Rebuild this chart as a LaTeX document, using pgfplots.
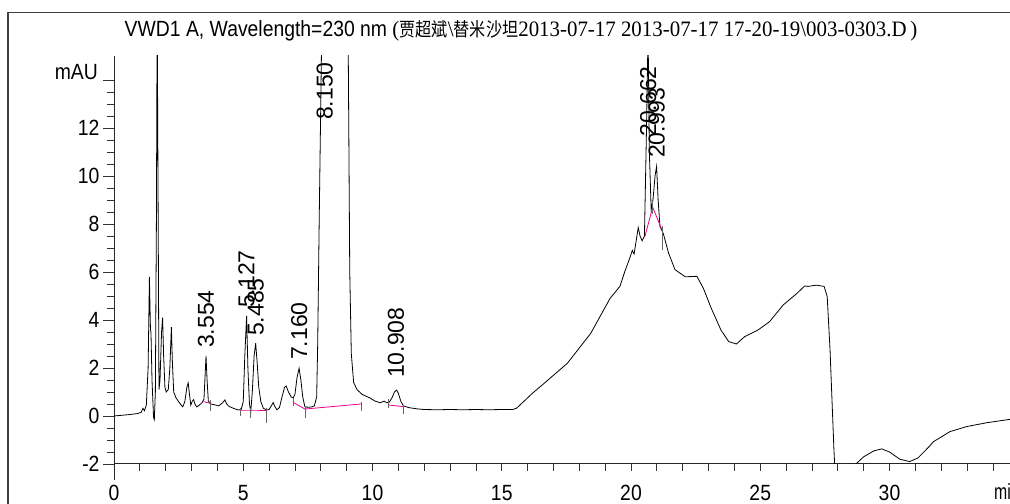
\documentclass[border=0pt]{standalone}
\usepackage{fontspec}
\setmainfont{Liberation Sans}
\newfontfamily\narrowfont{Liberation Sans}[FakeStretch=0.88]
\newfontfamily\narrowerfont{Liberation Sans}[FakeStretch=0.72]
\newfontfamily\cjk{Noto Sans CJK SC}[FakeStretch=0.85]
\newfontfamily\cserif{Liberation Serif}[FakeStretch=0.95]
\usepackage{pgfplots}
\pgfplotsset{compat=1.18}
\newcommand\tickfont{\narrowfont\fontsize{22bp}{22bp}\selectfont}
\newcommand\peakfont{\fontsize{23bp}{23bp}\selectfont}
\begin{document}
\begin{tikzpicture}
\path[use as bounding box] (0,0) rectangle (1010bp,504bp);
\draw[black!75, line width=1.2bp] (8bp,-2bp) -- (8bp,491.3bp) -- (1014bp,491.3bp);
\node[anchor=base, inner sep=0] at (521bp,467bp) {\narrowfont\fontsize{22bp}{24bp}\selectfont VWD1 A, Wavelength=230 nm {\cserif(}{\cjk\fontsize{19bp}{22bp}\selectfont 贾超斌}{\cserif\textbackslash}{\cjk\fontsize{19bp}{22bp}\selectfont 替米沙坦}{\cserif 2013-07-17 2013-07-17 17-20-19\textbackslash 003-0303.D\,)}};
\begin{axis}[
  at={(114bp,40bp)}, anchor=south west, scale only axis,
  width=904.75bp, height=408bp,
  xmin=0, xmax=35, ymin=-2, ymax=15,
  axis x line*=bottom, axis y line*=left,
  x axis line style={-}, y axis line style={-},
  axis line style={black!85, line width=1bp},
  xtick={0,5,...,30}, minor xtick={0,1,...,35},
  major x tick style={draw=none},
  ytick={-2,0,...,14}, yticklabels={-2,0,2,4,6,8,10,12,{}},
  minor y tick num=3,
  tick align=outside, major tick length=11bp, minor tick length=6.5bp,
  tick style={black!80, line width=0.8bp},
  ticklabel style={font=\tickfont},
  /pgf/number format/assume math mode=true,
  xticklabel style={anchor=base, yshift=-25bp},
  yticklabel style={anchor=east},
]
\addplot[black, line width=0.8bp] coordinates {
(0.00,0.00) (0.30,0.03) (0.60,0.06) (0.90,0.10) (1.05,0.15) (1.12,0.32) (1.18,0.22) (1.25,0.45)
(1.32,2.0) (1.37,5.8) (1.41,3.6) (1.43,3.5) (1.47,1.5) (1.53,-0.05) (1.56,-0.15) (1.60,1.0)
(1.64,8) (1.67,17) (1.71,8) (1.74,1.1) (1.78,1.5) (1.84,3.5) (1.88,4.1) (1.92,2.5) (1.97,1.2)
(2.02,1.0) (2.10,1.1) (2.16,2.0) (2.22,3.7) (2.26,2.2) (2.31,1.0) (2.40,0.75) (2.50,0.6)
(2.60,0.45) (2.66,0.38) (2.74,0.6) (2.82,1.2) (2.87,1.38) (2.92,0.9) (2.97,0.45) (3.03,0.62)
(3.08,0.68) (3.13,0.5) (3.20,0.38) (3.30,0.45) (3.40,0.55) (3.48,0.7) (3.52,1.6) (3.56,2.5)
(3.60,1.5) (3.65,0.62) (3.75,0.5) (3.91,0.46) (4.05,0.42) (4.20,0.55) (4.29,0.67) (4.36,0.5)
(4.45,0.4) (4.62,0.32) (4.81,0.25) (4.92,0.27) (5.00,0.6) (5.06,2.5) (5.13,4.17) (5.18,2.0)
(5.24,0.5) (5.29,0.18) (5.35,1.0) (5.42,2.5) (5.48,3.03) (5.54,2.2) (5.60,1.2) (5.68,0.6)
(5.78,0.32) (5.90,0.25) (6.00,0.27) (6.10,0.45) (6.16,0.56) (6.22,0.40) (6.30,0.26) (6.40,0.35)
(6.50,0.8) (6.60,1.2) (6.66,1.25) (6.75,1.0) (6.85,0.8) (6.93,0.75) (7.00,0.9) (7.08,1.6)
(7.16,1.99) (7.23,1.5) (7.30,0.8) (7.38,0.4) (7.50,0.36) (7.65,0.38) (7.75,0.42) (7.84,0.8)
(7.88,3.0) (7.94,8.3) (8.03,15.5) (8.15,40) (9.0,40) (9.06,15.5) (9.12,6) (9.18,2.6) (9.27,1.4)
(9.40,1.1) (9.60,0.9) (9.90,0.75) (10.10,0.62) (10.30,0.55) (10.45,0.62) (10.55,0.55)
(10.65,0.58) (10.75,0.75) (10.85,1.0) (10.93,1.08) (11.00,0.95) (11.10,0.6) (11.20,0.42)
(11.40,0.35) (11.70,0.30) (12.00,0.27) (12.50,0.26) (13.00,0.27) (13.50,0.26) (14.00,0.27)
(14.50,0.26) (15.00,0.27) (15.43,0.27) (15.58,0.33) (16.18,0.94) (16.79,1.5) (17.54,2.2)
(18.44,3.44) (19.19,4.9) (19.57,5.4) (19.77,6.05) (19.96,6.6) (20.05,6.9) (20.12,6.75)
(20.28,7.85) (20.35,7.5) (20.43,7.3) (20.52,7.5) (20.60,12) (20.66,16) (20.71,11) (20.78,8.6)
(20.85,9.0) (20.93,10.0) (20.99,10.4) (21.05,9.0) (21.12,7.9) (21.25,7.6) (21.45,6.8)
(21.70,6.1) (22.10,5.8) (22.55,5.82) (22.80,5.32) (23.10,4.5) (23.48,3.58) (23.78,3.1)
(24.08,3.0) (24.39,3.3) (24.91,3.58) (25.36,3.93) (25.89,4.63) (26.42,5.11) (26.72,5.42)
(26.85,5.4) (27.17,5.45) (27.47,5.4) (27.59,4.98) (27.70,2.75) (27.85,-1.4) (27.90,-2.5)
(28.30,-2.8) (28.66,-2.04) (29.00,-1.7) (29.40,-1.45) (29.70,-1.37) (30.00,-1.5) (30.40,-1.8)
(30.78,-1.9) (31.10,-1.75) (31.53,-1.28) (31.70,-1.07) (32.34,-0.65) (32.99,-0.44)
(33.76,-0.28) (34.66,-0.14) (35.00,-0.12)
};
\addplot[magenta, line width=0.8bp] coordinates {(3.46,0.6) (3.71,0.53)};
\addplot[magenta, line width=0.8bp] coordinates {(4.87,0.25) (5.28,0.25) (5.90,0.25)};
\addplot[magenta, line width=0.8bp] coordinates {(6.94,0.56) (7.39,0.29) (9.55,0.5)};
\addplot[magenta, line width=0.8bp] coordinates {(10.61,0.46) (11.19,0.39)};
\addplot[magenta, line width=0.8bp] coordinates {(20.53,7.45) (20.84,8.7) (21.18,7.8)};
\addplot[black!60, line width=0.6bp, unbounded coords=jump] coordinates {
(3.71,0.65) (3.71,0.2) (nan,nan)
(4.87,0.35) (4.87,0.0) (nan,nan)
(5.28,0.35) (5.28,-0.1) (nan,nan)
(5.90,0.35) (5.90,-0.3) (nan,nan)
(6.94,0.75) (6.94,0.4) (nan,nan)
(7.39,0.4) (7.39,-0.1) (nan,nan)
(9.55,0.6) (9.55,0.2) (nan,nan)
(10.61,0.7) (10.61,0.35) (nan,nan)
(11.19,0.45) (11.19,0.1) (nan,nan)
(20.84,9.0) (20.84,8.4) (nan,nan)
(21.22,7.9) (21.22,6.9)
};
\node[rotate=90, anchor=west, inner sep=0, font=\peakfont] at (axis cs:3.554,2.83) {3.554};
\node[rotate=90, anchor=west, inner sep=0, font=\peakfont] at (axis cs:5.127,4.5) {5.127};
\node[rotate=90, anchor=west, inner sep=0, font=\peakfont] at (axis cs:5.485,3.33) {5.485};
\node[rotate=90, anchor=west, inner sep=0, font=\peakfont] at (axis cs:7.160,2.33) {7.160};
\node[rotate=90, anchor=west, inner sep=0, font=\peakfont] at (axis cs:8.150,12.33) {8.150};
\node[rotate=90, anchor=west, inner sep=0, font=\peakfont] at (axis cs:10.908,1.58) {10.908};
\node[rotate=90, anchor=west, inner sep=0, font=\peakfont] at (axis cs:20.662,11.63) {20.662};
\node[rotate=90, anchor=west, inner sep=0, font=\peakfont] at (axis cs:20.993,10.75) {20.993};
\end{axis}
\draw[black!85, line width=1bp] (114bp,40bp) -- (114bp,24bp);
\node[anchor=east, inner sep=0, font=\tickfont] at (98bp,431.5bp) {mAU};
\node[anchor=base west, inner sep=0, font=\narrowerfont\fontsize{22bp}{22bp}\selectfont] at (994bp,4.5bp) {min};
\end{tikzpicture}
\end{document}
